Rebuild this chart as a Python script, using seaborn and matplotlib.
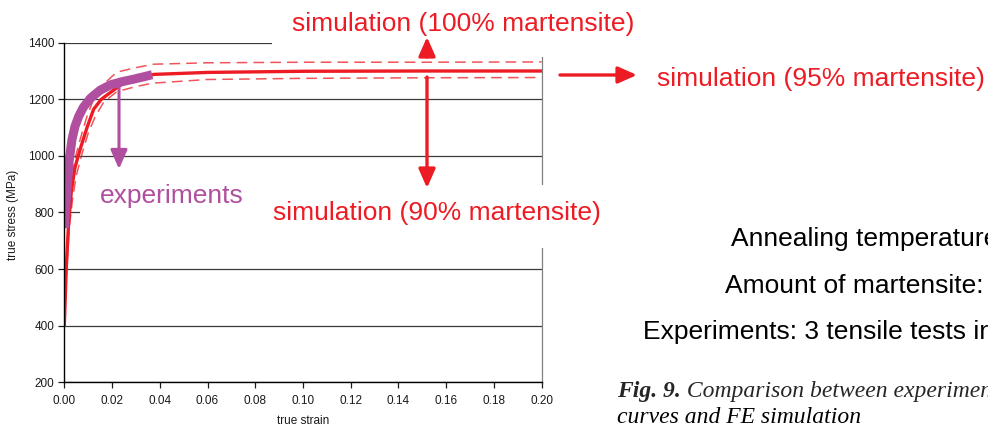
import matplotlib
matplotlib.use("Agg")
import matplotlib.pyplot as plt
from matplotlib.patches import Rectangle
import numpy as np
import pandas as pd
import seaborn as sns

# ---------------- data ----------------
sim95_strain = [0, 0.0008, 0.0018, 0.003, 0.0045, 0.0067, 0.0095, 0.0123, 0.0155,
                0.018, 0.0235, 0.030, 0.0375, 0.06, 0.10, 0.15, 0.20]
sim95_stress = [400, 600, 760, 880, 960, 1025, 1100, 1165, 1200,
                1216, 1250, 1272, 1288, 1295, 1299, 1300, 1300]

sim100_strain = [0, 0.0008, 0.0018, 0.003, 0.0045, 0.0067, 0.0095, 0.0123, 0.016,
                 0.022, 0.03, 0.0375, 0.06, 0.10, 0.15, 0.20]
sim100_stress = [400, 620, 790, 910, 990, 1060, 1140, 1200, 1250,
                 1296, 1312, 1324, 1329, 1331, 1331, 1332]

sim90_strain = [0, 0.001, 0.002, 0.0035, 0.005, 0.0075, 0.010, 0.013, 0.0165,
                0.022, 0.03, 0.037, 0.06, 0.10, 0.15, 0.20]
sim90_stress = [400, 590, 740, 850, 930, 1010, 1080, 1140, 1190,
                1227, 1245, 1257, 1270, 1274, 1276, 1277]

exp_strain = [0, 0.0006, 0.0011, 0.002, 0.0032, 0.0045, 0.006, 0.008, 0.011,
              0.015, 0.0193, 0.024, 0.029, 0.033, 0.0368]
exp_stress = [745, 820, 880, 980, 1057, 1105, 1139, 1172, 1204,
              1232, 1251, 1262, 1271, 1279, 1287]

x_ticks = [0.00, 0.02, 0.04, 0.06, 0.08, 0.10, 0.12, 0.14, 0.16, 0.18, 0.20]
y_ticks = [200, 400, 600, 800, 1000, 1200, 1400]

label_100 = "simulation (100% martensite)"
label_95 = "simulation (95% martensite)"
label_90 = "simulation (90% martensite)"
label_exp = "experiments"
info_lines = ["Annealing temperature", "Amount of martensite:", "Experiments: 3 tensile tests in"]
caption_bold = "Fig. 9."
caption_rest = " Comparison between experimen"
caption_line2 = "curves and FE simulation"

# ---------------- style ----------------
sns.set_style("white")
plt.rcParams['font.family'] = ['Liberation Sans', 'DejaVu Sans']

RED = "#ed1c24"
PURPLE = "#b04fa0"
W, H = 988, 428

fig = plt.figure(figsize=(W / 100, H / 100), dpi=100)
L, R, T, B = 64.3, 541.7, 42.7, 382.3
ax = fig.add_axes([L / W, 1 - B / H, (R - L) / W, (B - T) / H])

def sim_df(s, st):
    return pd.DataFrame({"strain": s, "stress": st})

sns.lineplot(data=sim_df(sim100_strain, sim100_stress), x="strain", y="stress", ax=ax,
             sort=False, estimator=None, color=RED, lw=1.1, alpha=0.75, zorder=2.2)
ax.lines[-1].set_dashes((7, 4))
sns.lineplot(data=sim_df(sim90_strain, sim90_stress), x="strain", y="stress", ax=ax,
             sort=False, estimator=None, color=RED, lw=1.1, alpha=0.75, zorder=2.2)
ax.lines[-1].set_dashes((7, 4))
sns.lineplot(data=sim_df(sim95_strain, sim95_stress), x="strain", y="stress", ax=ax,
             sort=False, estimator=None, color=RED, lw=2.4, zorder=2.3)
sns.lineplot(data=sim_df(exp_strain, exp_stress), x="strain", y="stress", ax=ax,
             sort=False, estimator=None, color=PURPLE, lw=6.5, zorder=2.4,
             solid_capstyle="butt")

ax.set_xlim(0, 0.20)
ax.set_ylim(200, 1400)
ax.set_xticks(x_ticks)
ax.set_xticklabels([f"{v:.2f}" for v in x_ticks])
ax.set_yticks(y_ticks)
ax.set_yticklabels([str(v) for v in y_ticks])
ax.tick_params(axis="both", labelsize=8.5, length=4, width=0.9, colors="#1a1a1a",
               direction="out", bottom=True, left=True)
ax.tick_params(axis="x", pad=5.5)
ax.tick_params(axis="y", pad=3)
ax.grid(axis="y", color="#3a3a3a", lw=0.9)
ax.grid(axis="x", visible=False)
ax.set_axisbelow(True)
for s in ["left", "bottom"]:
    ax.spines[s].set_color("black")
    ax.spines[s].set_linewidth(1.0)
ax.spines["right"].set_color("#808080")
ax.spines["right"].set_linewidth(0.9)
ax.spines["top"].set_visible(False)

ax.set_xlabel("true strain", fontsize=8.5, color="#1a1a1a")
ax.set_ylabel("true stress (MPa)", fontsize=8.5, color="#1a1a1a")
ax.xaxis.set_label_coords(0.5, 1 - (421 - T) / (B - T), transform=ax.transAxes)
ax.yaxis.set_label_coords((13.5 - L) / (R - L), 1 - (215 - T) / (B - T), transform=ax.transAxes)
ax.xaxis.label.set_verticalalignment("center")
ax.yaxis.label.set_verticalalignment("center")

# ---------------- white text boxes that hide parts of the frame ----------------
def fx(x):
    return x / W

def fy(y):
    return 1 - y / H

def box(x0, y0, x1, y1):
    r = Rectangle((fx(x0), fy(y1)), fx(x1) - fx(x0), fy(y0) - fy(y1),
                  transform=fig.transFigure, facecolor="white", edgecolor="none",
                  zorder=3, clip_on=False)
    ax.add_patch(r)

box(272, 0, 650, 57)     # 100% label box
box(80, 172, 268, 226)   # experiments label box
box(266, 185, 612, 248)  # 90% label box

# ---------------- labels ----------------
def ftext(x, y, s, **kw):
    ax.text(fx(x), fy(y), s, transform=fig.transFigure, zorder=6, clip_on=False, **kw)

ftext(292, 30.7, label_100, color=RED, fontsize=19, va="baseline", ha="left")
ftext(657, 86, label_95, color=RED, fontsize=19, va="baseline", ha="left")
ftext(273, 220, label_90, color=RED, fontsize=19, va="baseline", ha="left")
ftext(100, 203, label_exp, color=PURPLE, fontsize=19, va="baseline", ha="left")

ftext(731, 246, info_lines[0], color="black", fontsize=19, va="baseline", ha="left")
ftext(725, 292.7, info_lines[1], color="black", fontsize=19, va="baseline", ha="left")
ftext(643, 339.3, info_lines[2], color="black", fontsize=19, va="baseline", ha="left")

t1 = ax.text(fx(617), fy(396.7), caption_bold, transform=fig.transFigure, zorder=6,
             family="Liberation Serif", style="italic", weight="bold", fontsize=17,
             va="baseline", ha="left")
ax.annotate(caption_rest, xy=(1, 0), xycoords=t1, va="bottom", ha="left",
            family="Liberation Serif", style="italic", fontsize=17, zorder=6)
ftext(617, 422.7, caption_line2, family="Liberation Serif", style="italic",
      fontsize=17, va="baseline", ha="left", color="black")

# ---------------- arrows ----------------
def farrow(x0, y0, x1, y1, color, lw=2.4):
    ax.annotate("", xy=(x1, H - y1), xycoords="figure pixels",
                xytext=(x0, H - y0), textcoords="figure pixels",
                arrowprops=dict(arrowstyle="-|>,head_length=0.95,head_width=0.42",
                                color=color, lw=lw, shrinkA=0, shrinkB=0,
                                mutation_scale=12),
                annotation_clip=False, zorder=7)

farrow(119, 87, 119, 169, PURPLE, lw=2.2)
farrow(427, 57, 427, 37, RED)
farrow(427, 77, 427, 188, RED)
farrow(560, 75, 637, 75, RED)

fig.savefig("out.png", dpi=100)
